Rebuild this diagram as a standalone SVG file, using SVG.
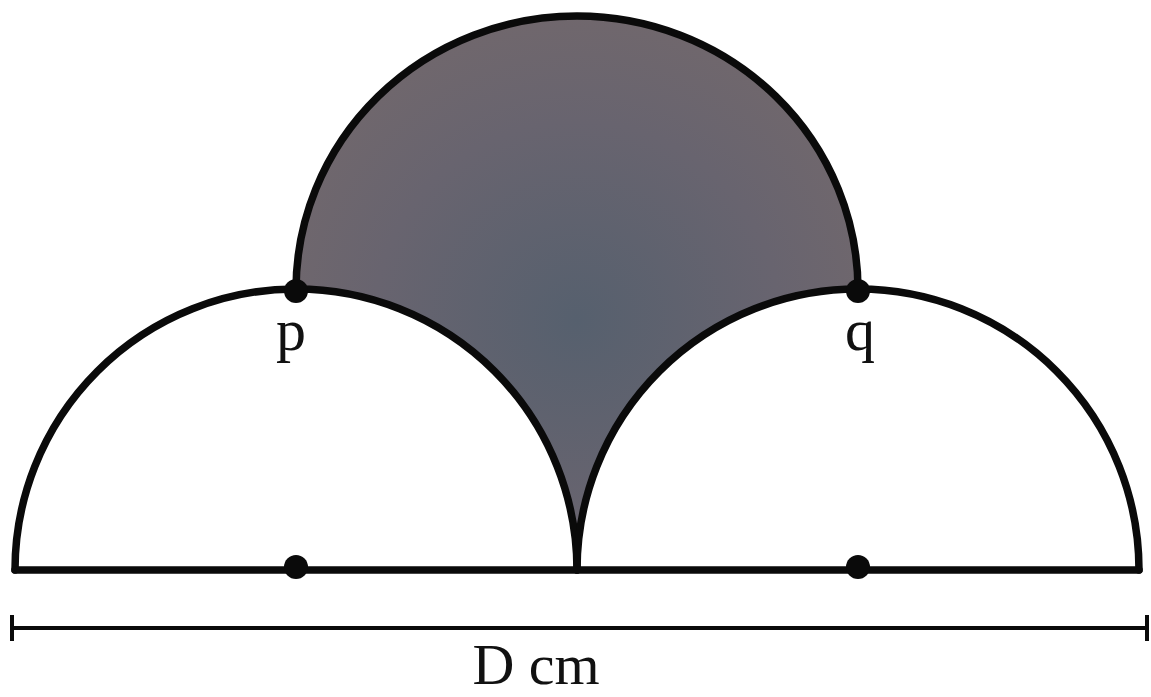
<svg xmlns="http://www.w3.org/2000/svg" width="1151" height="697" viewBox="0 0 1151 697">
<defs>
<radialGradient id="shade" cx="0.5" cy="0.55" r="0.6">
<stop offset="0" stop-color="#56606e"/>
<stop offset="0.6" stop-color="#68646f"/>
<stop offset="1" stop-color="#72686c"/>
</radialGradient>
</defs>
<style>
.ln{fill:none;stroke:#0a0a0a;stroke-width:7.5;stroke-linejoin:round;stroke-linecap:round}
.dim{fill:none;stroke:#0a0a0a;stroke-width:4}
.dot{fill:#0a0a0a}
.lbl{font-family:"Liberation Serif","Times New Roman",serif;font-size:60px;fill:#111}
.lblD{font-family:"Liberation Serif","Times New Roman",serif;font-size:58px;fill:#111}
</style>
<rect width="1151" height="697" fill="#ffffff"/>
<g id="shaded-region">
<path d="M296,290 A281,274 0 0 1 858,290 A281,281 0 0 0 577,570 A281,281 0 0 0 296,290 Z" fill="url(#shade)"/>
</g>
<g id="connectors">
<path id="left-semicircle" class="ln" d="M15,570 A281,281 0 0 1 577,570"/>
<path id="right-semicircle" class="ln" d="M577,570 A281,281 0 0 1 1139,570"/>
<path id="top-arc" class="ln" d="M296,290 A281,274 0 0 1 858,290"/>
<line id="base" class="ln" x1="15" y1="570" x2="1139" y2="570"/>
<g id="dimension">
<line class="dim" x1="12" y1="628" x2="1147" y2="628"/>
<line class="dim" x1="12" y1="615" x2="12" y2="641"/>
<line class="dim" x1="1147" y1="615" x2="1147" y2="641"/>
</g>
</g>
<g id="point-p">
<circle class="dot" cx="296" cy="291" r="12"/>
<text class="lbl" x="291" y="350" text-anchor="middle">p</text>
</g>
<g id="point-q">
<circle class="dot" cx="858" cy="291" r="12"/>
<text class="lbl" x="860" y="350" text-anchor="middle">q</text>
</g>
<g id="center-left">
<circle class="dot" cx="296" cy="567" r="12"/>
</g>
<g id="center-right">
<circle class="dot" cx="858" cy="567" r="12"/>
</g>
<g id="label-d">
<text class="lblD" x="536" y="684" text-anchor="middle">D cm</text>
</g>
</svg>
